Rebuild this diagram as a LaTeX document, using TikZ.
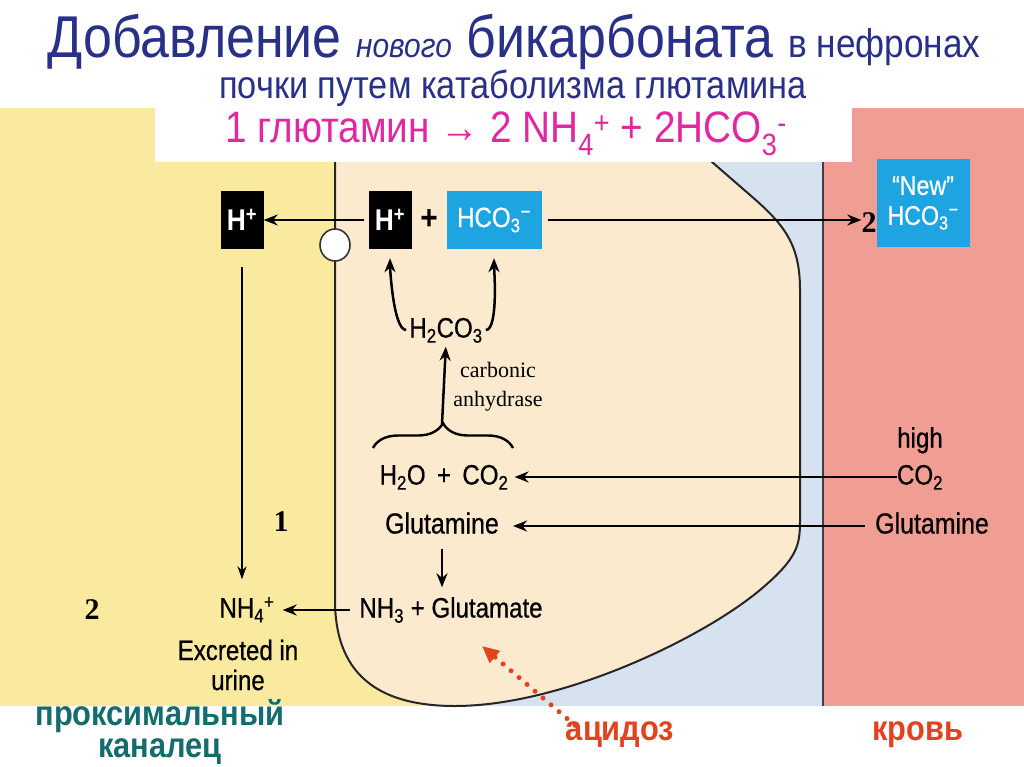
\documentclass[tikz,border=0pt]{standalone}
\usepackage{fontspec}
\setmainfont[FakeStretch=0.88]{Liberation Sans}
\newfontfamily\labelface[FakeStretch=0.86,FakeBold=0.6]{Liberation Sans}
\newfontfamily\serifface{Liberation Serif}
\usetikzlibrary{arrows.meta,decorations.pathreplacing,shapes.geometric}

\definecolor{lumen}{RGB}{250,234,160}
\definecolor{cytoplasm}{RGB}{252,234,206}
\definecolor{interstit}{RGB}{214,226,240}
\definecolor{blood}{RGB}{240,158,148}
\definecolor{bicarb}{RGB}{30,165,225}
\definecolor{titleblue}{RGB}{40,48,135}
\definecolor{equation}{RGB}{225,40,160}
\definecolor{tubule}{RGB}{20,108,108}
\definecolor{acid}{RGB}{226,66,30}

\tikzset{
    chem/.style = {
        inner sep=0pt,
        text height=20pt,
        text depth=5pt,
        font=\labelface\fontsize{28}{30}\selectfont,
        },
    ion box/.style = {
        fill=black,
        text=white,
        minimum width=43pt,
        minimum height=58pt,
        inner sep=0pt,
        font=\bfseries\fontsize{30}{30}\selectfont,
        },
    base box/.style = {
        ion box,
        fill=bicarb,
        font=\labelface\fontsize{28}{30}\selectfont,
        },
    flow/.style = {
        -{Stealth[length=14pt,width=11pt]},
        line width=2.5pt,
        },
    thin flow/.style = {
        -{Stealth[length=13pt,width=9pt]},
        line width=1.5pt,
        },
    dotted flow/.style = {
        -{Triangle[length=17pt,width=15pt]},
        draw=acid,
        line width=5pt,
        line cap=round,
        dash pattern=on 0pt off 10.5pt,
        },
    num/.style = {
        inner sep=0pt,
        font=\serifface\bfseries\fontsize{30}{30}\selectfont,
        },
    region name/.style = {
        inner sep=0pt,
        text height=17pt,
        text depth=4pt,
        font=\bfseries\fontsize{35}{26}\selectfont,
        },
}

\begin{document}
\begin{tikzpicture}[x=1pt,y=-1pt]
    \useasboundingbox (0,0) rectangle (1024,767);

    % compartments
    \fill[lumen] (0,108) rectangle (430,706);
    \fill[interstit] (430,108) rectangle (823,706);
    \fill[blood] (823,108) rectangle (1024,706);
    \draw[black!75, line width=2pt] (823,162) -- (823,706);
    \filldraw[fill=cytoplasm, draw=black!85, line width=2pt]
        (335,150) -- (335,600)
        .. controls (335,680) and (385,706) .. (455,706)
        .. controls (560,706) and (700,640) .. (760,590)
        .. controls (798,558) and (800,545) .. (800,520)
        -- (800,290)
        .. controls (800,245) and (785,225) .. (750,195)
        -- (712,162) -- (712,150);
    \fill[white] (155,108) rectangle (852,162);

    % title
    \node[text=titleblue, inner sep=0pt] (title) at (514,42)
        {\fontsize{59}{60}\selectfont Добавление {\itshape\fontsize{34}{36}\selectfont нового}
         бикарбоната {\fontsize{40}{40}\selectfont в нефронах}};
    \node[text=titleblue, inner sep=0pt, font=\fontsize{39}{40}\selectfont] (subtitle) at (513,88)
        {почки путем катаболизма глютамина};
    \node[text=equation, inner sep=0pt, font=\fontsize{44}{46}\selectfont] (summary) at (506,134)
        {1 глютамин → 2 NH\textsubscript{4}\textsuperscript{+} + 2HCO\textsubscript{3}\textsuperscript{-}};

    % ions at the apical membrane
    \node[ion box] (hlumen) at (242,220) {H\textsuperscript{+}};
    \node[ion box] (hcell) at (390,220) {H\textsuperscript{+}};
    \node[chem, font=\bfseries\fontsize{34}{34}\selectfont] (plus) at (429,222) {+};
    \node[base box, minimum width=95pt] (hco) at (494,220) {HCO\textsubscript{3}\textsuperscript{−}};
    \node[draw=black!80, fill=white, ellipse, line width=1.6pt, minimum width=30pt, minimum height=32pt,
        inner sep=0pt] (antiport) at (335,245) {};
    \node[base box, minimum width=93pt, minimum height=87pt, align=center,
        font=\labelface\fontsize{27}{30}\selectfont] (newhco) at (923,203) {“New”\\HCO\textsubscript{3}\textsuperscript{−}};
    \node[num] (two r) at (869,223) {2};

    % carbonic anhydrase reaction
    \node[chem] (carbonic) at (446,330) {H\textsubscript{2}CO\textsubscript{3}};
    \node[inner sep=0pt, align=center, font=\serifface\fontsize{22}{29}\selectfont] (enzyme) at (498,387)
        {carbonic\\anhydrase};
    \coordinate (brace l) at (373,448);
    \coordinate (brace r) at (513,448);
    \coordinate (brace tip) at (442,424);
    \draw[decorate, decoration={brace, amplitude=25pt}, line width=2.4pt] (brace l) -- (brace r);
    \node[chem] (water) at (444,477) {H\textsubscript{2}O \,+\, CO\textsubscript{2}};
    \node[chem, font=\labelface\fontsize{29}{30}\selectfont] (gln) at (442,526) {Glutamine};
    \node[chem] (glu) at (451,610) {NH\textsubscript{3} + Glutamate};

    % lumen side
    \node[chem] (ammonium) at (247,610) {NH\textsubscript{4}\textsuperscript{+}};
    \node[inner sep=0pt, align=center, font=\labelface\fontsize{28}{30}\selectfont] (excreted) at (238,665)
        {Excreted in\\urine};
    \node[num] (one) at (281,522) {1};
    \node[num] (two l) at (92,610) {2};

    % blood side
    \node[chem] (high) at (920,440) {high};
    \node[chem] (co2 blood) at (920,477) {CO\textsubscript{2}};
    \node[chem, font=\labelface\fontsize{29}{30}\selectfont] (gln blood) at (932,526) {Glutamine};

    % bottom labels
    \node[region name, text=tubule] (tubule a) at (160,719) {проксимальный};
    \node[region name, text=tubule] (tubule b) at (160,751) {каналец};
    \node[region name, text=acid] (acidosis) at (620,734) {ацидоз};
    \node[region name, text=acid] (blood) at (918,734) {кровь};
    \coordinate (acid tip) at (482,646);

    % transport
    \path (hcell.west) edge[flow, shorten <=4pt] (hlumen.east);
    \path (hco.east) edge[flow, shorten <=6pt] (hco.east -| two r.west);
    \path (hlumen.south) edge[thin flow, shorten <=18pt, shorten >=18pt] (hlumen.south |- ammonium.north);
    \path (glu.west) edge[flow, shorten <=9pt, shorten >=8pt] (ammonium.east);
    \path (co2 blood.west) edge[flow, shorten >=6pt] (water.east);
    \path (gln blood.west) edge[flow, shorten <=10pt, shorten >=14pt] (gln.east);
    \path (gln.south) edge[flow, shorten <=10pt, shorten >=10pt] (gln.south |- glu.north);
    \path (brace tip) edge[flow, shorten >=4pt] (carbonic.south);
    \draw[flow, shorten <=3pt, shorten >=9pt] (carbonic.west) to[out=180, in=-90, looseness=0.5] (hcell.south);
    \draw[flow, shorten <=3pt, shorten >=9pt] (carbonic.east) to[out=0, in=-90, looseness=0.5] (hco.south);
    \draw[dotted flow] ([xshift=-45pt, yshift=-2pt]acidosis.north) -- (acid tip);
\end{tikzpicture}
\end{document}
